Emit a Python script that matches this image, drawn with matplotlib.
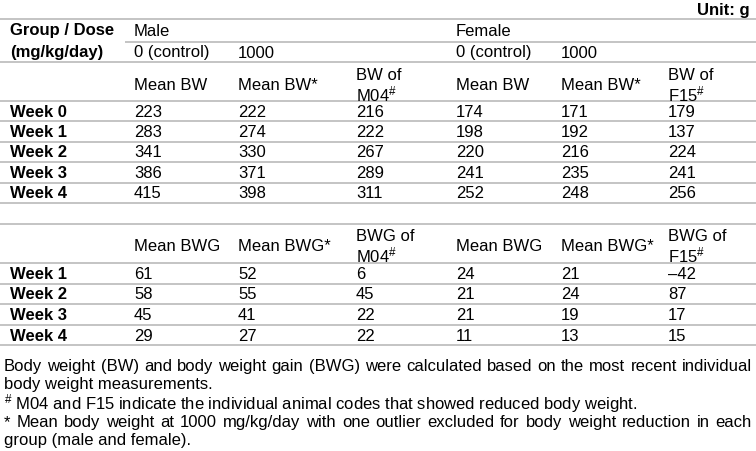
import matplotlib
matplotlib.use('Agg')
import matplotlib.pyplot as plt

plt.rcParams['font.family'] = ['Liberation Sans', 'DejaVu Sans']
plt.rcParams['mathtext.fontset'] = 'custom'
plt.rcParams['mathtext.rm'] = 'Liberation Sans'
plt.rcParams['mathtext.it'] = 'Liberation Sans'
plt.rcParams['mathtext.bf'] = 'Liberation Sans:bold'

# Data
weeks_bw = ['Week 0', 'Week 1', 'Week 2', 'Week 3', 'Week 4']
male_ctrl_bw = [223, 283, 341, 386, 415]
male_1000_bw = [222, 274, 330, 371, 398]
m04_bw = [216, 222, 267, 289, 311]
female_ctrl_bw = [174, 198, 220, 241, 252]
female_1000_bw = [171, 192, 216, 235, 248]
f15_bw = [179, 137, 224, 241, 256]

weeks_bwg = ['Week 1', 'Week 2', 'Week 3', 'Week 4']
male_ctrl_bwg = [61, 58, 45, 29]
male_1000_bwg = [52, 55, 41, 27]
m04_bwg = [6, 45, 22, 22]
female_ctrl_bwg = [24, 21, 21, 11]
female_1000_bwg = [21, 24, 19, 13]
f15_bwg = [-42, 87, 17, 15]

footnotes = [
    ('Body weight (BW) and body weight gain (BWG) were calculated based on the most recent individual', True),
    ('body weight measurements.', False),
    ('$^{\\#}$ M04 and F15 indicate the individual animal codes that showed reduced body weight.', False),
    ('* Mean body weight at 1000 mg/kg/day with one outlier excluded for body weight reduction in each', True),
    ('group (male and female).', False),
]

W, H = 756, 452
fig = plt.figure(figsize=(W / 100, H / 100), dpi=100)
ax = fig.add_axes([0, 0, 1, 1])
ax.set_xlim(0, W)
ax.set_ylim(H, 0)
ax.axis('off')

fs = 12
lc = '#c4c4c4'
lw = 1.4
cols = [10, 134, 238, 356, 456, 561, 668]


def hline(y, x0=0, x1=W):
    ax.plot([x0, x1], [y, y], color=lc, lw=lw, solid_capstyle='butt')


def txt(x, y, s, bold=False, ha='left'):
    ax.text(x, y, s, fontsize=fs, fontweight='bold' if bold else 'normal',
            ha=ha, va='center', color='black')


def fmt(v):
    return '\u2013' + str(-v) if v < 0 else str(v)


# Unit
txt(750, 10, 'Unit: g', bold=True, ha='right')

# Table 1 header
hline(20)
txt(cols[0], 31, 'Group / Dose', bold=True)
txt(cols[0], 52, '(mg/kg/day)', bold=True)
txt(cols[1], 31, 'Male')
txt(cols[4], 31, 'Female')
hline(43, 125)
for c in (1, 4):
    txt(cols[c], 53, '0 (control)')
    txt(cols[c + 1], 53, '1000')
hline(63)
txt(cols[1], 85, 'Mean BW')
txt(cols[2], 85, 'Mean BW*')
txt(cols[3], 76, 'BW of')
txt(cols[3], 94, 'M04$^{\\#}$')
txt(cols[4], 85, 'Mean BW')
txt(cols[5], 85, 'Mean BW*')
txt(cols[6], 76, 'BW of')
txt(cols[6], 94, 'F15$^{\\#}$')
hline(102)

series_bw = [male_ctrl_bw, male_1000_bw, m04_bw, female_ctrl_bw, female_1000_bw, f15_bw]
y = 102
for i, wk in enumerate(weeks_bw):
    yc = y + 10.2
    txt(cols[0], yc, wk, bold=True)
    for j, s in enumerate(series_bw):
        txt(cols[j + 1], yc, fmt(s[i]))
    y += 20.4
    hline(y)

# Table 2
hline(225)
txt(cols[1], 247, 'Mean BWG')
txt(cols[2], 247, 'Mean BWG*')
txt(cols[3], 237, 'BWG of')
txt(cols[3], 255, 'M04$^{\\#}$')
txt(cols[4], 247, 'Mean BWG')
txt(cols[5], 247, 'Mean BWG*')
txt(cols[6], 237, 'BWG of')
txt(cols[6], 255, 'F15$^{\\#}$')
hline(264)

series_bwg = [male_ctrl_bwg, male_1000_bwg, m04_bwg, female_ctrl_bwg, female_1000_bwg, f15_bwg]
y = 264
for i, wk in enumerate(weeks_bwg):
    yc = y + 10.3
    txt(cols[0], yc, wk, bold=True)
    for j, s in enumerate(series_bwg):
        txt(cols[j + 1], yc, fmt(s[i]))
    y += 20.6
    hline(y)

# Footnotes (justified where needed)
fig.canvas.draw()
renderer = fig.canvas.get_renderer()
x_left, x_right = 4, 752
ys = [367, 385, 404, 423, 441]
for (line, justify), yy in zip(footnotes, ys):
    if not justify:
        txt(x_left, yy, line)
        continue
    words = line.split(' ')
    arts = [ax.text(0, yy, w, fontsize=fs, ha='left', va='center') for w in words]
    widths = [a.get_window_extent(renderer).width for a in arts]
    gap = (x_right - x_left - sum(widths)) / (len(words) - 1)
    x = x_left
    for a, wdt in zip(arts, widths):
        a.set_x(x)
        x += wdt + gap

fig.savefig('out.png', dpi=100)
